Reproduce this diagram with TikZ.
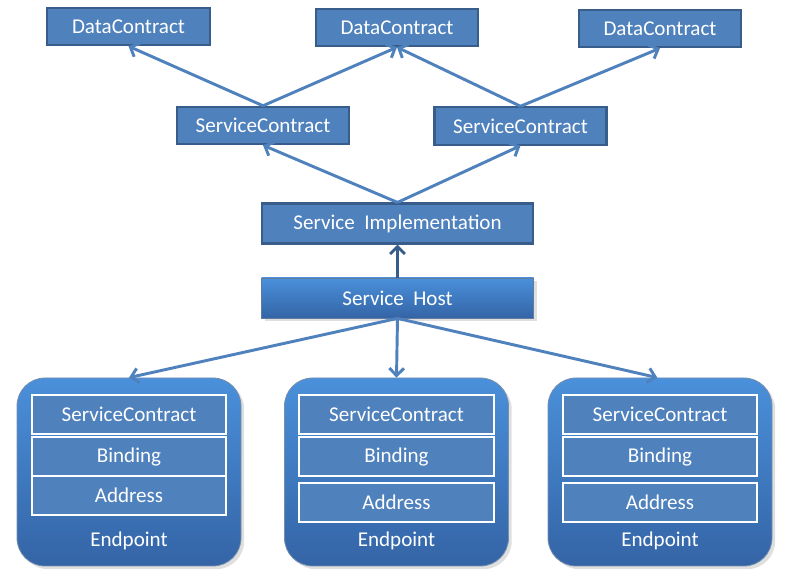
\documentclass[tikz,border=0pt]{standalone}
\usepackage{fontspec}
\setmainfont{Carlito}
\usepackage{xcolor}
\usetikzlibrary{positioning,arrows.meta,shadows}
\definecolor{boxfill}{HTML}{4F81BD}
\definecolor{boxline}{HTML}{385D8A}
\definecolor{shadetop}{HTML}{4A90DA}
\definecolor{shadebot}{HTML}{3464A6}

\tikzset{
  labelfont/.style={font=\fontsize{15.8}{18}\selectfont},
  plainbox/.style={draw=boxline, line width=1.6pt, fill=boxfill, text=white, labelfont},
  hostbox/.style={draw=boxline!80, line width=0.6pt, top color=shadetop, bottom color=shadebot, text=white, labelfont, drop shadow={opacity=0.25}},
  endpointbox/.style={draw=boxline!70, line width=0.6pt, top color=shadetop, bottom color=shadebot, rounded corners=21pt, minimum width=168pt, minimum height=141pt, drop shadow={opacity=0.25}},
  partbox/.style={draw=white, line width=1.5pt, fill=boxfill, text=white, minimum width=146pt, minimum height=29pt, labelfont},
  link/.style={draw=boxfill, line width=2.2pt, -{Straight Barb[length=5.5pt, width=11pt]}}
}

\begin{document}
\begin{tikzpicture}[x=0.75pt, y=-0.75pt]
\useasboundingbox (0,0) rectangle (790,577);

% contracts
\node[plainbox, minimum width=122pt, minimum height=28pt] (data1) at (128.5,26.5) {DataContract};
\node[plainbox, minimum width=122pt, minimum height=28pt] (data2) at (397,27.5) {DataContract};
\node[plainbox, minimum width=122pt, minimum height=28pt] (data3) at (660,28.5) {DataContract};
\node[plainbox, minimum width=129pt, minimum height=28pt] (contract1) at (263,125.5) {ServiceContract};
\node[plainbox, minimum width=129pt, minimum height=28pt] (contract2) at (520.5,126) {ServiceContract};

% service
\node[plainbox, minimum width=203pt, minimum height=30pt] (impl) at (397.5,223.5) {Service\ \ Implementation};
\node[hostbox, minimum width=204pt, minimum height=30pt] (host) at (397.5,298) {Service\ \ Host};

% endpoints
\foreach \x/\k/\gap in {129/1/0, 396.5/2/7, 660/3/7} {
  \node[endpointbox] (ep\k) at (\x,472) {};
  \node[partbox] (epcontract\k) at (\x,414.5) {ServiceContract};
  \node[partbox] (epbinding\k) at (\x,456.5) {Binding};
  \node[partbox] (epaddress\k) at (\x,495.5+\gap) {Address};
  \node[text=white, labelfont] (eplabel\k) at (\x,541) {Endpoint};
}

\draw[link] (contract1.north) -- (data1.south);
\draw[link] (contract1.north) -- (data2.south);
\draw[link] (contract2.north) -- (data2.south);
\draw[link] (contract2.north) -- (data3.south);
\draw[link] (impl.north) -- (contract1.south);
\draw[link] (impl.north) -- (contract2.south);
\draw[link, draw=boxline] (host.north) -- (impl.south);
\draw[link] (host.south) -- (ep1.north);
\draw[link] (host.south) -- (ep2.north);
\draw[link] (host.south) -- ([xshift=-2pt]ep3.north);
\end{tikzpicture}
\end{document}
